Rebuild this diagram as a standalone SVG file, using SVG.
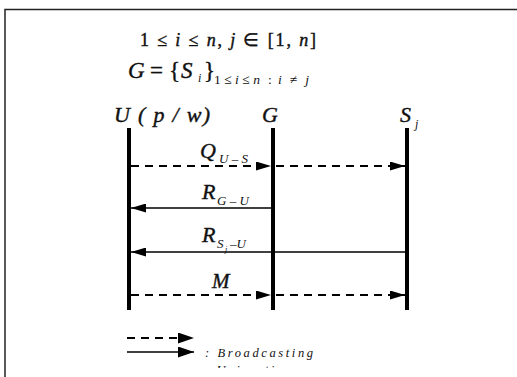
<svg xmlns="http://www.w3.org/2000/svg" width="517" height="377" viewBox="0 0 517 377">
<style>
.m{font-family:"Liberation Serif","Times New Roman",serif;font-style:italic;fill:#111}
.u{font-family:"Liberation Serif","Times New Roman",serif;font-style:normal;fill:#111}
.big{stroke:#111;stroke-width:0.4}
.life{stroke:#000;stroke-width:4;fill:none}
.uni{stroke:#000;stroke-width:1.6;fill:none}
.bc{stroke:#000;stroke-width:1.8;fill:none;stroke-dasharray:8 6}
.leg{font-family:"Liberation Serif","Times New Roman",serif;font-style:italic;fill:#111;font-size:12.5px}
</style>
<defs>
<marker id="ah" markerWidth="15" markerHeight="9" refX="15" refY="4.5" orient="auto" markerUnits="userSpaceOnUse"><path d="M0,0L15,4.5L0,9z" fill="#000"/></marker>
<marker id="ahl" markerWidth="16" markerHeight="11" refX="16" refY="5.5" orient="auto" markerUnits="userSpaceOnUse"><path d="M0,0L16,5.5L0,11z" fill="#000"/></marker>
<clipPath id="cut"><rect x="0" y="0" width="517" height="368"/></clipPath>
</defs>
<g id="frame">
<path d="M5,377V9.5H517" fill="none" stroke="#222" stroke-width="1.5"/>
</g>
<g id="header">
<text class="u big" x="140" y="46" font-size="18" textLength="176" lengthAdjust="spacing">1 ≤ <tspan class="m">i</tspan> ≤ <tspan class="m">n</tspan>,  <tspan class="m">j</tspan> ∈ [1, <tspan class="m">n</tspan>]</text>
<text class="m big" x="128" y="78" font-size="23">G</text>
<text class="u big" x="150" y="78" font-size="23">=</text>
<text class="u big" x="169" y="78" font-size="23">{</text>
<text class="m big" x="181" y="78" font-size="23">S</text>
<text class="m" x="198" y="82" font-size="12">i</text>
<text class="u big" x="204" y="78" font-size="23">}</text>
<text class="u" y="84" font-size="13.5"><tspan x="214" textLength="46" lengthAdjust="spacing">1≤<tspan class="m">i</tspan>≤<tspan class="m">n</tspan></tspan><tspan x="268">:</tspan><tspan x="278" textLength="31" lengthAdjust="spacing"><tspan class="m">i</tspan>≠<tspan class="m">j</tspan></tspan></text>
</g>
<g id="node-U">
<text class="m big" x="114" y="122" font-size="22" textLength="96" lengthAdjust="spacing">U ( p / w)</text>
<line class="life" x1="129" y1="128" x2="129" y2="310"/>
</g>
<g id="node-G">
<text class="m big" x="262" y="122" font-size="22">G</text>
<line class="life" x1="273" y1="128" x2="273" y2="310"/>
</g>
<g id="node-Sj">
<text class="m big" x="400" y="122" font-size="22">S</text>
<text class="m" x="415" y="128" font-size="12">j</text>
<line class="life" x1="407" y1="128" x2="407" y2="310"/>
</g>
<g id="connectors">
<line class="bc" x1="131" y1="166" x2="271" y2="166" marker-end="url(#ah)"/>
<line class="bc" x1="276" y1="166" x2="405" y2="166" marker-end="url(#ah)"/>
<line class="uni" x1="271" y1="208" x2="131" y2="208" marker-end="url(#ah)"/>
<line class="uni" x1="405" y1="252" x2="131" y2="252" marker-end="url(#ah)"/>
<line class="bc" x1="131" y1="295" x2="271" y2="295" marker-end="url(#ah)"/>
<line class="bc" x1="276" y1="295" x2="405" y2="295" marker-end="url(#ah)"/>
</g>
<g id="labels">
<text class="m big" x="200" y="158" font-size="22">Q</text>
<text class="m" x="219" y="163" font-size="13">U – S</text>
<text class="m big" x="202" y="199" font-size="22">R</text>
<text class="m" x="217" y="205" font-size="13">G – U</text>
<text class="m big" x="202" y="242" font-size="22">R</text>
<text class="m" x="217" y="248" font-size="13">S</text>
<text class="m" x="225" y="252" font-size="8">j</text>
<text class="m" x="230" y="248" font-size="13">–U</text>
<text class="m big" x="212" y="288" font-size="21">M</text>
</g>
<g id="legend">
<line class="bc" x1="127" y1="338" x2="194" y2="338" stroke-dasharray="7 5" marker-end="url(#ahl)"/>
<line class="uni" x1="127" y1="352" x2="194" y2="352" marker-end="url(#ahl)"/>
<text class="leg" x="205" y="357" textLength="108" lengthAdjust="spacing">: Broadcasting</text>
<text class="leg" x="205" y="374" textLength="86" lengthAdjust="spacing" clip-path="url(#cut)">: Unicasting</text>
</g>
</svg>
